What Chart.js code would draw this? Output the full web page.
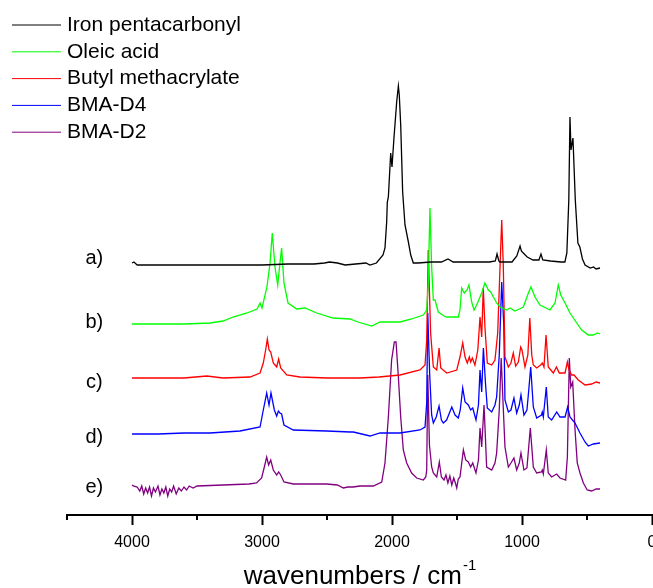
<!DOCTYPE html>
<html>
<head>
<meta charset="utf-8">
<script src="https://cdn.jsdelivr.net/npm/chart.js@4/dist/chart.umd.min.js"></script>
<style>
  body { margin: 0; overflow: hidden; background: #fff; }
  #wrap { width: 700px; height: 588px; }
</style>
</head>
<body>
<div id="wrap"><canvas id="irChart"></canvas></div>
<script>
// Spectra: [wavenumber (cm-1), stacked intensity]
const ironPentacarbonyl = [[4000,252],[3985,253],[3960,250],[3800,250],[3500,250],[3200,250],[3000,250],[2800,251],[2600,251],[2520,252],[2480,253],[2420,252],[2360,250],[2280,251],[2200,252],[2170,250],[2120,252],[2069,260],[2054,267],[2041,293],[2036,313],[2028,318],[2010,362],[2000,348],[1985,377],[1964,413],[1951,429],[1944,420],[1933,390],[1918,323],[1900,290],[1874,273],[1856,260],[1836,252],[1800,252],[1700,253],[1620,253],[1569,256],[1530,253],[1400,253],[1250,253],[1205,254],[1192,261],[1178,254],[1170,253],[1077,253],[1040,259],[1015,269],[1005,264],[990,262],[960,258],[915,255],[870,255],[854,261],[840,255],[780,254],[700,253],[670,253],[655,262],[640,315],[631,398],[623,365],[608,377],[590,315],[570,272],[555,268],[535,256],[515,250],[475,247],[450,248],[430,246],[400,247]];

const oleicAcid = [[4000,191],[3800,191],[3600,191],[3400,192],[3300,194],[3223,198],[3115,202],[3038,206],[3015,212],[3000,207],[2962,228],[2938,252],[2921,282],[2900,248],[2879,230],[2862,252],[2849,267],[2831,232],[2800,212],[2733,206],[2669,207],[2579,202],[2454,197],[2323,196],[2262,193],[2156,189],[2092,193],[1938,193],[1850,196],[1759,200],[1733,205],[1721,232],[1708,307],[1695,248],[1682,215],[1669,215],[1644,203],[1600,199],[1579,198],[1490,198],[1477,205],[1464,227],[1444,222],[1423,225],[1408,230],[1387,213],[1369,205],[1349,210],[1310,222],[1285,232],[1259,225],[1241,223],[1220,218],[1195,212],[1169,208],[1118,205],[1092,207],[1054,204],[1020,206],[990,208],[951,222],[931,228],[900,218],[862,210],[785,205],[746,212],[721,230],[702,220],[669,212],[631,202],[579,192],[541,185],[490,180],[451,180],[420,182],[400,181]];

const butylMethacrylate = [[4000,137],[3800,137],[3600,137],[3425,139],[3300,137],[3092,138],[3015,142],[2990,152],[2972,165],[2959,176],[2946,165],[2933,163],[2913,152],[2887,148],[2872,156],[2856,147],[2810,140],[2708,138],[2500,137],[2246,137],[2100,138],[1938,140],[1785,145],[1746,150],[1733,175],[1721,265],[1703,182],[1682,148],[1656,145],[1638,167],[1625,147],[1579,142],[1502,145],[1477,158],[1456,172],[1438,158],[1421,152],[1405,158],[1395,153],[1382,157],[1362,150],[1340,165],[1323,198],[1310,178],[1298,227],[1285,188],[1267,152],[1233,150],[1208,155],[1187,182],[1169,248],[1156,295],[1144,250],[1131,158],[1105,148],[1085,152],[1067,162],[1049,149],[1028,153],[1010,168],[1000,165],[977,148],[955,160],[940,197],[925,160],[913,150],[887,147],[856,150],[844,152],[831,148],[815,180],[798,148],[759,142],[735,148],[713,142],[669,142],[651,153],[638,145],[618,140],[600,140],[567,135],[515,130],[464,131],[430,133],[400,132]];

const bmaD4 = [[4000,81],[3800,81],[3600,82],[3400,82],[3169,84],[3015,88],[2990,105],[2964,122],[2946,110],[2931,122],[2905,105],[2887,99],[2874,104],[2862,102],[2849,101],[2831,90],[2759,85],[2502,84],[2323,83],[2297,83],[2169,79],[2092,82],[1938,82],[1785,85],[1746,88],[1733,112],[1725,202],[1710,140],[1695,100],[1682,92],[1660,98],[1638,109],[1620,95],[1605,92],[1580,95],[1540,108],[1515,100],[1490,97],[1475,105],[1456,127],[1438,113],[1413,110],[1395,105],[1379,107],[1354,95],[1335,110],[1323,145],[1310,123],[1297,167],[1280,130],[1267,107],[1233,103],[1208,110],[1195,118],[1175,160],[1156,233],[1140,190],[1131,115],[1105,103],[1085,105],[1062,117],[1041,102],[1021,110],[1008,120],[985,100],[962,105],[948,125],[933,148],[913,108],[887,97],[850,100],[844,103],[836,98],[813,128],[798,98],[772,95],[733,103],[708,98],[669,98],[649,108],[631,98],[592,92],[554,82],[515,73],[490,69],[451,71],[400,72]];

const bmaD2 = [[4000,30],[3990,29],[3960,28],[3940,24],[3925,29],[3910,21],[3895,27],[3880,22],[3865,28],[3850,19],[3835,27],[3820,23],[3800,29],[3785,20],[3770,26],[3755,22],[3740,28],[3725,19],[3710,26],[3695,23],[3680,29],[3660,21],[3640,27],[3620,24],[3600,28],[3580,25],[3560,29],[3530,27],[3500,29],[3300,30],[3100,31],[3042,32],[3003,37],[2982,48],[2964,58],[2949,50],[2933,55],[2913,45],[2887,40],[2872,43],[2856,40],[2831,33],[2759,31],[2502,31],[2420,30],[2374,27],[2340,28],[2300,28],[2246,29],[2144,29],[2079,33],[2054,52],[2028,98],[2003,155],[1982,173],[1969,173],[1951,138],[1933,98],[1913,65],[1887,52],[1849,42],[1810,37],[1759,35],[1740,38],[1733,45],[1725,140],[1712,70],[1695,48],[1682,42],[1656,38],[1636,53],[1620,38],[1600,35],[1585,40],[1570,32],[1555,39],[1540,30],[1525,37],[1510,31],[1502,27],[1490,36],[1477,38],[1451,65],[1433,55],[1413,53],[1395,48],[1379,52],[1354,42],[1335,55],[1323,87],[1310,68],[1292,110],[1272,48],[1233,45],[1208,52],[1195,62],[1175,105],[1160,157],[1145,110],[1131,68],[1105,48],[1085,52],[1062,57],[1041,45],[1021,52],[1008,62],[985,45],[962,47],[936,87],[913,48],[887,42],[850,43],[844,45],[836,41],[813,65],[798,42],[772,38],[733,41],[708,37],[664,35],[651,58],[636,157],[625,128],[610,133],[592,85],[575,52],[554,42],[528,32],[498,25],[464,24],[430,26],[400,26]];

const seriesNames = ['Iron pentacarbonyl', 'Oleic acid', 'Butyl methacrylate', 'BMA-D4', 'BMA-D2'];
const seriesTags = ['a)', 'b)', 'c)', 'd)', 'e)'];
const tagLevels = [259, 195, 135, 80, 30];
const seriesColors = ['#000000', '#00ff00', '#ff0000', '#0000ff', '#800080'];
const seriesData = [ironPentacarbonyl, oleicAcid, butylMethacrylate, bmaD4, bmaD2];

const majorTicks = [0, 1000, 2000, 3000, 4000];
const minorTicks = [4500, 3500, 2500, 1500, 500];
const tagPosition = 4290;

const font = 'Liberation Sans, Arial, sans-serif';

// legend, a)-e) tags, minor ticks and axis title
const decorPlugin = {
    id: 'decor',
    afterDraw(chart) {
        const ctx = chart.ctx;
        const xs = chart.scales.x;
        const ys = chart.scales.y;
        ctx.save();

        // legend top-left
        ctx.font = '21px ' + font;
        ctx.textBaseline = 'middle';
        ctx.textAlign = 'left';
        chart.data.datasets.forEach((ds, i) => {
            const y = 25 + i * 26.8;
            ctx.strokeStyle = ds.borderColor;
            ctx.lineWidth = 1;
            ctx.beginPath();
            ctx.moveTo(12, y);
            ctx.lineTo(61, y);
            ctx.stroke();
            ctx.fillStyle = '#000';
            ctx.fillText(ds.label, 67, y);
        });

        // series tags
        ctx.font = '20px ' + font;
        ctx.textAlign = 'center';
        seriesTags.forEach((tag, i) => {
            ctx.fillText(tag, xs.getPixelForValue(tagPosition), ys.getPixelForValue(tagLevels[i]) + 2);
        });

        // minor ticks
        ctx.strokeStyle = '#000';
        ctx.lineWidth = 2;
        minorTicks.forEach(v => {
            const x = xs.getPixelForValue(v);
            ctx.beginPath();
            ctx.moveTo(x, xs.top);
            ctx.lineTo(x, xs.top + 5);
            ctx.stroke();
        });

        // axis title with superscript
        const main = 'wavenumbers / cm';
        const sup = '-1';
        ctx.font = '26px ' + font;
        const wMain = ctx.measureText(main).width;
        ctx.font = '15px ' + font;
        const wSup = ctx.measureText(sup).width;
        const cx = (chart.chartArea.left + chart.chartArea.right) / 2;
        const x0 = cx - (wMain + wSup) / 2;
        ctx.textAlign = 'left';
        ctx.textBaseline = 'alphabetic';
        ctx.font = '26px ' + font;
        ctx.fillText(main, x0, 584);
        ctx.font = '15px ' + font;
        ctx.fillText(sup, x0 + wMain + 1, 570);

        ctx.restore();
    }
};

new Chart(document.getElementById('irChart'), {
    type: 'line',
    data: {
        datasets: seriesData.map((pts, i) => ({
            label: seriesNames[i],
            data: pts,
            borderColor: seriesColors[i],
            borderWidth: 1.3,
            pointRadius: 0,
            tension: 0,
            fill: false
        }))
    },
    options: {
        responsive: true,
        maintainAspectRatio: false,
        animation: false,
        layout: { padding: { left: 67, right: 48, top: 0, bottom: 0 } },
        plugins: {
            legend: { display: false },
            tooltip: { enabled: false }
        },
        scales: {
            x: {
                type: 'linear',
                reverse: true,
                min: 0,
                max: 4500,
                afterFit(scale) { scale.height = 73; },
                afterBuildTicks(scale) {
                    scale.ticks = majorTicks.map(v => ({ value: v }));
                },
                border: { display: true, color: '#000', width: 2 },
                grid: {
                    drawOnChartArea: false,
                    drawTicks: true,
                    tickLength: 10,
                    tickWidth: 2,
                    tickColor: '#000'
                },
                ticks: {
                    color: '#000',
                    padding: 8,
                    maxRotation: 0,
                    font: { family: font, size: 16 },
                    callback: v => String(v)
                }
            },
            y: {
                display: false,
                min: 0,
                max: 515
            }
        }
    },
    plugins: [decorPlugin]
});
</script>
</body>
</html>
